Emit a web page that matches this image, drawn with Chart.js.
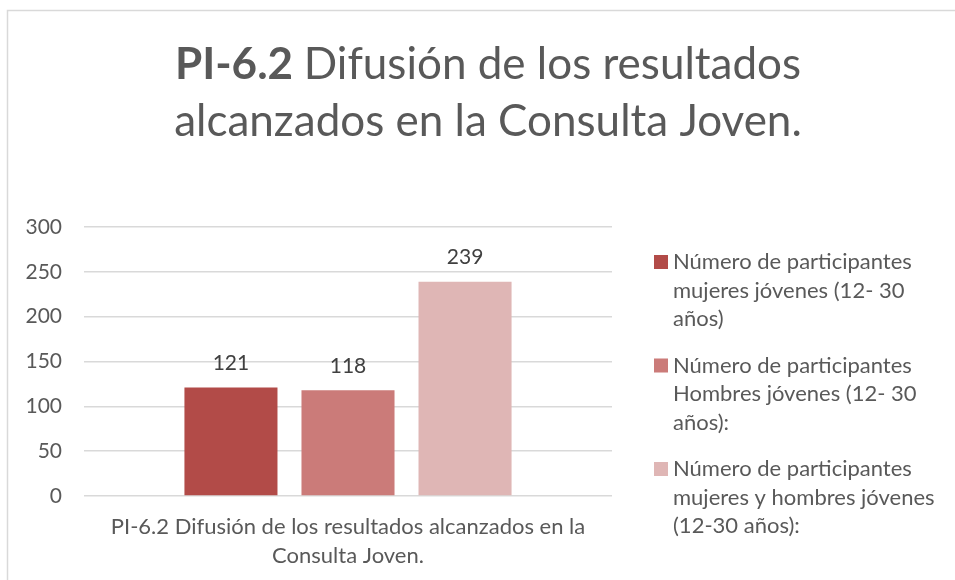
<!DOCTYPE html>
<html lang="es">
<head>
<meta charset="utf-8">
<title>PI-6.2 Difusión de los resultados alcanzados en la Consulta Joven.</title>
<script src="https://cdn.jsdelivr.net/npm/chart.js@4.4.1/dist/chart.umd.min.js"></script>
<style>
  html, body { margin: 0; padding: 0; background: #ffffff; }
  #wrap { position: relative; width: 955px; height: 580px; }
  canvas { display: block; }
</style>
</head>
<body>
<div id="wrap"><canvas id="chart" width="955" height="580"></canvas></div>
<script>
// Categories (one group, label split over two lines)
const categories = [["PI-6.2 Difusión de los resultados alcanzados en la", "Consulta Joven."]];

// Series names (legend text, pre-wrapped)
const seriesNames = [
  ["Número de participantes", "mujeres jóvenes (12- 30", "años)"],
  ["Número de participantes", "Hombres jóvenes (12- 30", "años):"],
  ["Número de participantes", "mujeres y hombres jóvenes", "(12-30 años):"]
];

// Series values
const mujeres = [121];
const hombres = [118];
const total = [239];

// Y axis ticks
const yTicks = [0, 50, 100, 150, 200, 250, 300];

// Title parts: bold prefix + regular text, two lines
const titleLines = [
  [{ text: "PI-6.2 ", bold: true }, { text: "Difusión de los resultados", bold: false }],
  [{ text: "alcanzados en la Consulta Joven.", bold: false }]
];

const seriesColors = ["#B24B48", "#CB7B79", "#DFB6B5"];
const FONT = "Lato, 'Open Sans', sans-serif";
const TEXT = "#595959";

// Light frame around the chart
const framePlugin = {
  id: "frame",
  beforeDraw(chart) {
    const ctx = chart.ctx;
    ctx.save();
    ctx.strokeStyle = "#d9d9d9";
    ctx.lineWidth = 1.5;
    ctx.strokeRect(7.5, 10.5, 1000, 700);
    ctx.restore();
  }
};

// Two-line title with a bold lead-in
const mixedTitle = {
  id: "mixedTitle",
  afterDraw(chart, args, opts) {
    const ctx = chart.ctx;
    ctx.save();
    ctx.fillStyle = opts.color;
    ctx.textBaseline = "alphabetic";
    opts.lines.forEach((parts, i) => {
      let width = 0;
      parts.forEach(p => {
        ctx.font = (p.bold ? "bold " : "") + opts.size + "px " + FONT;
        width += ctx.measureText(p.text).width;
      });
      let x = opts.centerX - width / 2;
      const y = opts.firstBaseline + i * opts.lineGap;
      parts.forEach(p => {
        ctx.font = (p.bold ? "bold " : "") + opts.size + "px " + FONT;
        ctx.textAlign = "left";
        ctx.fillText(p.text, x, y);
        x += ctx.measureText(p.text).width;
      });
    });
    ctx.restore();
  }
};

// Value above each bar
const barValues = {
  id: "barValues",
  afterDatasetsDraw(chart, args, opts) {
    const ctx = chart.ctx;
    ctx.save();
    ctx.font = opts.size + "px " + FONT;
    ctx.fillStyle = opts.color;
    ctx.textAlign = "center";
    ctx.textBaseline = "middle";
    chart.data.datasets.forEach((ds, di) => {
      const meta = chart.getDatasetMeta(di);
      meta.data.forEach((bar, i) => {
        ctx.fillText(String(ds.data[i]), bar.x, bar.y - opts.offset);
      });
    });
    ctx.restore();
  }
};

// Legend on the right with wrapped entries
const sideLegend = {
  id: "sideLegend",
  afterDraw(chart, args, opts) {
    const ctx = chart.ctx;
    ctx.save();
    ctx.font = opts.size + "px " + FONT;
    ctx.textBaseline = "middle";
    ctx.textAlign = "left";
    let y = opts.top;
    chart.data.datasets.forEach((ds) => {
      ctx.fillStyle = ds.backgroundColor;
      ctx.fillRect(opts.left, y - opts.box / 2, opts.box, opts.box);
      ctx.fillStyle = opts.color;
      const lines = Array.isArray(ds.label) ? ds.label : [ds.label];
      lines.forEach((ln, k) => {
        ctx.fillText(ln, opts.left + opts.box + opts.gap, y + k * opts.lineHeight);
      });
      y += lines.length * opts.lineHeight + opts.itemGap;
    });
    ctx.restore();
  }
};

const datasets = [mujeres, hombres, total].map((values, i) => ({
  label: seriesNames[i],
  data: values,
  backgroundColor: seriesColors[i],
  borderWidth: 0,
  categoryPercentage: 0.665,
  barPercentage: 0.795
}));

new Chart(document.getElementById("chart"), {
  type: "bar",
  data: { labels: categories, datasets },
  plugins: [framePlugin, mixedTitle, barValues, sideLegend],
  options: {
    responsive: false,
    animation: false,
    devicePixelRatio: 1,
    layout: { padding: { top: 227, left: 8, right: 343, bottom: 0 } },
    plugins: {
      legend: { display: false },
      title: { display: false },
      tooltip: { enabled: false },
      mixedTitle: { lines: titleLines, size: 44, color: TEXT, centerX: 488, firstBaseline: 79, lineGap: 57 },
      barValues: { size: 21, color: "#404040", offset: 24 },
      sideLegend: { left: 654, top: 262, box: 14, gap: 5, size: 22, lineHeight: 28.5, itemGap: 18, color: TEXT }
    },
    scales: {
      x: {
        grid: { display: false, drawTicks: false },
        border: { display: false },
        afterFit(axis) { axis.height -= 6; },
        ticks: {
          color: TEXT,
          font: { family: FONT, size: 22, lineHeight: 1.32 },
          padding: 16,
          maxRotation: 0,
          autoSkip: false
        }
      },
      y: {
        min: 0,
        max: 300,
        afterBuildTicks(axis) { axis.ticks = yTicks.map(v => ({ value: v })); },
        afterFit(axis) { axis.width = 76; },
        grid: { color: "#d9d9d9", lineWidth: 1.5, drawTicks: false },
        border: { display: false },
        ticks: {
          color: TEXT,
          font: { family: FONT, size: 21 },
          padding: 22
        }
      }
    }
  }
});
</script>
</body>
</html>
